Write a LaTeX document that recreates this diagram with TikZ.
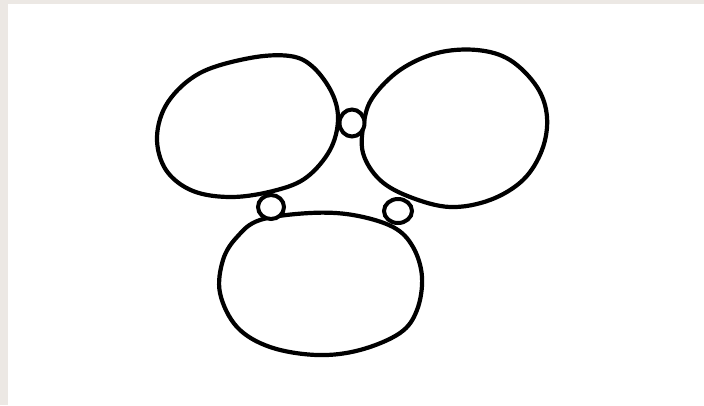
\documentclass[tikz,border=0pt]{standalone}
\usepackage{xcolor}
\usepackage{tikz}
\usetikzlibrary{shapes.geometric}

\definecolor{paper}{RGB}{236,232,228}

\begin{document}
\begin{tikzpicture}[
    x=1pt, y=-1pt,
    cell/.style={line width=4.2pt, line join=round},
    pore/.style={draw, ellipse, line width=4pt, fill=white, inner sep=0pt}
]
\useasboundingbox (0,0) rectangle (704,405);
\fill[paper] (0,0) rectangle (704,405);
\fill[white] (8,4) rectangle (704,405);
% three cells
\draw[cell] plot[smooth cycle, tension=0.6] coordinates {
    (157,137) (168,102) (200,73) (250,58) (290,56) (313,67) (332,93)
    (338,120) (330,150) (307,177) (277,190) (233,197) (193,191) (166,170)};
\draw[cell] plot[smooth cycle, tension=0.6] coordinates {
    (364,122) (373,97) (400,70) (437,53) (477,50) (510,60) (537,87)
    (547,117) (542,150) (523,180) (490,200) (450,207) (410,197) (380,180) (363,153)};
\draw[cell] plot[smooth cycle, tension=0.6] coordinates {
    (260,220) (310,213) (353,215) (393,227) (413,247) (422,277) (417,310)
    (400,333) (360,350) (317,355) (270,347) (237,327) (220,293) (223,260) (237,237)};
% connecting pores
\node[pore, minimum width=25pt, minimum height=27pt] (ptop) at (352,123) {};
\node[pore, minimum width=26pt, minimum height=24pt] (pleft) at (271,207) {};
\node[pore, minimum width=28pt, minimum height=24pt] (pright) at (398,211) {};
\end{tikzpicture}
\end{document}
